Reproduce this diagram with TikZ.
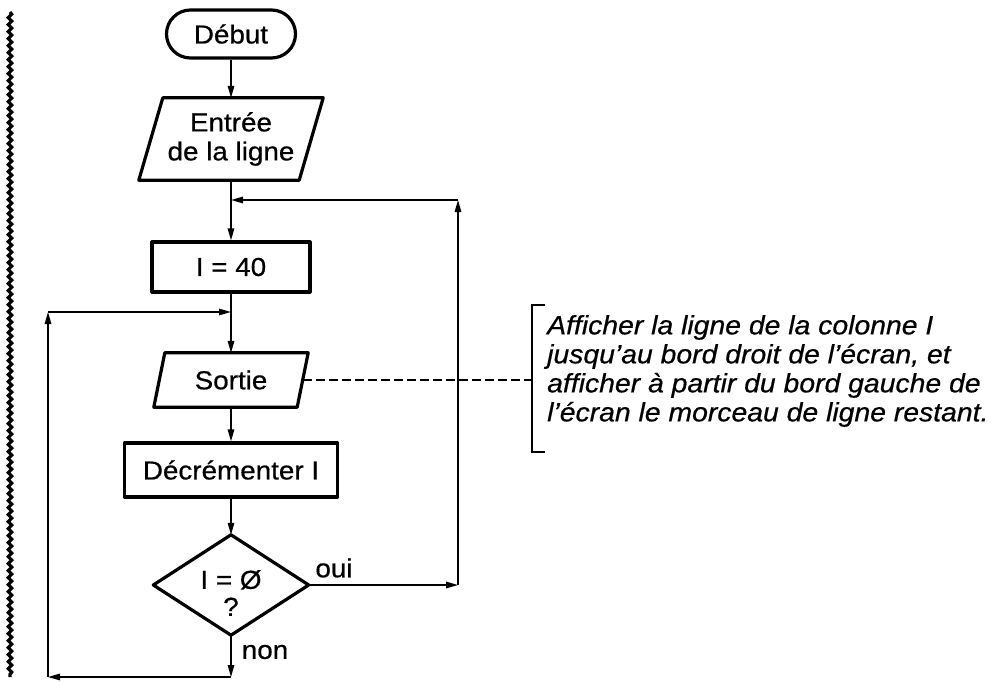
\documentclass[tikz,border=0pt]{standalone}
\usepackage{fontspec}
\setmainfont[FakeStretch=1.07,FakeBold=0.6]{Liberation Sans}
\usetikzlibrary{arrows.meta,decorations.pathmorphing,calc}
\begin{document}
\begin{tikzpicture}[x=1pt,y=-1pt,
  txt/.style={font=\fontsize{26}{29}\selectfont, inner sep=0pt, align=center},
  boxline/.style={line width=3.2pt, line join=round},
  conn/.style={line width=1.5pt, -{Triangle[length=12pt,width=6.5pt]}},
  thinline/.style={line width=1.5pt}]
\useasboundingbox (0,0) rectangle (996,682);

% wavy margin
\draw[line width=3.2pt, decorate, decoration={snake, amplitude=1.7pt, segment length=7pt}] (10,12) -- (10,677);

% nodes
\node[txt, draw, boxline, rounded corners=24pt, minimum width=129pt, minimum height=48pt] (debut) at (231,34) {Début};

\node[txt, minimum width=160pt, minimum height=82pt] (entree) at (231,139) {Entrée\\de la ligne};
\draw[boxline] ([xshift=12pt]entree.north west) -- ([xshift=12pt]entree.north east) -- ([xshift=-12pt]entree.south east) -- ([xshift=-12pt]entree.south west) -- cycle;

\node[txt, draw, boxline, minimum width=158pt, minimum height=50pt] (i40) at (231,267) {I = 40};

\node[txt, minimum width=143pt, minimum height=54pt] (sortie) at (231,380) {Sortie};
\draw[boxline] ([xshift=5.5pt]sortie.north west) -- ([xshift=5.5pt]sortie.north east) -- ([xshift=-5.5pt]sortie.south east) -- ([xshift=-5.5pt]sortie.south west) -- cycle;

\node[txt, draw, boxline, minimum width=213pt, minimum height=54pt] (decr) at (231,470) {Décrémenter I};

\node[minimum width=155pt, minimum height=100pt, inner sep=0pt] (dia) at (231,585) {};
\draw[boxline] (dia.west) -- (dia.north) -- (dia.east) -- (dia.south) -- cycle;
\node[txt, font=\fontsize{26}{27}\selectfont] (diatext) at (231,593) {I = Ø\\?};

\node[txt] (oui) at (334,568) {oui};
\node[txt] (non) at (265,652) {non};

% coordinates
\coordinate (j1) at (231,200);
\coordinate (j2) at (231,312);
\coordinate (r1) at (458,585);
\coordinate (r2) at (458,200);
\coordinate (c1) at (231,677);
\coordinate (c2) at (48,677);
\coordinate (c3) at (48,312);
\coordinate (brk) at (532,380);

% connectors
\draw[conn] (debut) -- (entree.north);
\draw[conn] (entree.south) -- (i40.north);
\draw[conn] (i40) -- (sortie.north);
\draw[conn] (sortie.south) -- (decr);
\draw[conn] (decr) -- (dia.north);
\draw[conn] (dia.east) -- (r1);
\draw[conn] (r1) -- (r2);
\draw[conn] (r2) -- (j1);
\draw[conn] (dia.south) -- (c1);
\draw[conn] (c1) -- (c2);
\draw[conn] (c2) -- (c3);
\draw[conn] (c3) -- (j2);

% annotation
\draw[thinline, dash pattern=on 9pt off 4pt] (sortie.east) -- (brk);
\draw[thinline] (545,305) -- (532,305) -- (532,452) -- (545,452);
\node[font=\fontsize{26.5}{29}\selectfont\itshape, align=left, anchor=west, inner sep=0pt] (note) at (547,371) {Afficher la ligne de la colonne I\\jusqu'au bord droit de l'écran, et\\afficher à partir du bord gauche de\\l'écran le morceau de ligne restant.};
\end{tikzpicture}
\end{document}
